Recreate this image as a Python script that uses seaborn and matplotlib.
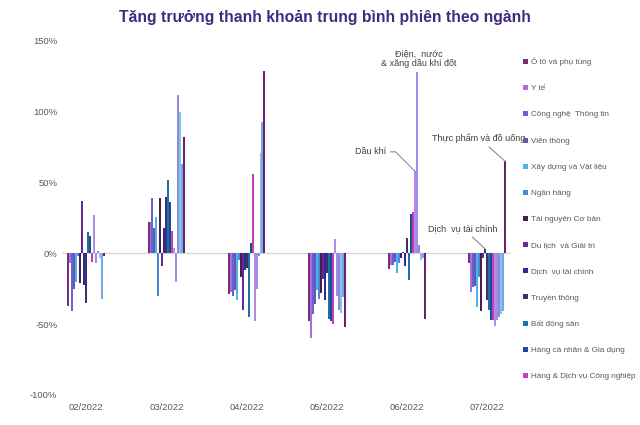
import pandas as pd
import matplotlib.pyplot as plt
import seaborn as sns

sns.set_theme(style="white")
plt.rcParams['font.family'] = ['Liberation Sans', 'DejaVu Sans']

months = ["02/2022", "03/2022", "04/2022", "05/2022", "06/2022", "07/2022"]

sectors = [
    "Ô tô và phụ tùng", "Y tế", "Công nghệ  Thông tin", "Viễn thông",
    "Xây dựng và Vật liệu", "Ngân hàng", "Tài nguyên Cơ bản",
    "Du lịch  và Giải trí", "Dịch  vụ tài chính", "Truyền thông",
    "Bất động sản", "Hàng cá nhân & Gia dụng", "Hàng & Dịch vụ Công nghiệp",
    "Dầu khí", "Điện, nước & xăng dầu khí đốt", "Bảo hiểm", "Hóa chất",
    "Bán lẻ", "Thực phẩm và đồ uống",
]

colors = [
    "#7B2D7F", "#A86ED9", "#6C5FD6", "#5D5BAA", "#4CB3EC", "#4B86D8",
    "#4B1C4E", "#64299B", "#2F2A8F", "#38336F", "#1F6FA6", "#1E4D8F",
    "#C33DC6", "#B28BE3", "#9C8DEA", "#8E8CCF", "#7CC8F2", "#7AA6E6",
    "#6A1F6C",
]

# growth in % per sector, one list per month (same order as sectors)
m02 = [-37, -7, -41, -25, -20, -2, -21, 37, -22, -35, 15, 12, -6, 27, -7, 2, -3, -32, -2]
m03 = [22, 22, 39, 18, 26, -30, 39, -9, 18, 40, 52, 36, 16, 4, -20, 112, 100, 63, 82]
m04 = [-29, -27, -30, -26, -33, -5, -17, -40, -12, -10, -45, 7, 56, -48, -25, -2, 71, 93, 129]
m05 = [-48, -60, -43, -36, -26, -32, -28, -18, -33, -14, -46, -48, -50, 10, -30, -40, -42, -31, -52]
m06 = [-11, -8, -8, -6, -14, -7, -3, 1, -9, 11, -19, 28, 29, 58, 128, 6, -5, -3, -46]
m07 = [-7, -27, -24, -23, -38, -17, -41, -3, 3, -33, -40, -47, -47, -51, -47, -45, -43, -41, 65]

values = [m02, m03, m04, m05, m06, m07]
rows = []
for month, vals in zip(months, values):
    for sector, v in zip(sectors, vals):
        rows.append({"month": month, "sector": sector, "value": v})
df = pd.DataFrame(rows)

fig = plt.figure(figsize=(6.4, 4.25), dpi=100)
ax = fig.add_axes([0.097, 0.0706, 0.702, 0.833])

sns.barplot(data=df, x="month", y="value", hue="sector", hue_order=sectors,
            order=months, palette=colors, saturation=1, width=0.47,
            linewidth=0, errorbar=None, ax=ax, legend=True)

ax.set_ylim(-100, 150)
ax.set_xlim(-0.3, 5.3)
ax.set_yticks([-100, -50, 0, 50, 100, 150])
ax.set_yticklabels([f"{t}%" for t in [-100, -50, 0, 50, 100, 150]])
ax.tick_params(axis='both', length=0, labelsize=6.8, colors="#595959")
ax.tick_params(axis='x', pad=6)
ax.set_xlabel("")
ax.set_ylabel("")
for s in ax.spines.values():
    s.set_visible(False)
ax.axhline(0, color="#d9d9d9", lw=1, zorder=0)

# only the first 13 sectors fit in the legend box
handles, labels = ax.get_legend_handles_labels()
ax.legend(handles[:13], labels[:13], loc="upper left",
          bbox_to_anchor=(0.817, 1 - 58 / 425), bbox_transform=fig.transFigure,
          frameon=False, fontsize=5.9, labelcolor="#595959",
          handlelength=0.6, handleheight=0.6, handletextpad=0.45,
          labelspacing=2.25, borderpad=0, borderaxespad=0)

fig.text(0.507, 0.958, "Tăng trưởng thanh khoản trung bình phiên theo ngành",
         ha="center", va="center", fontsize=11.3, fontweight="bold",
         color="#43297F")


def bar_top(sector, month):
    bar = ax.containers[sectors.index(sector)][months.index(month)]
    return bar.get_x() + bar.get_width() / 2, bar.get_height()


line = dict(arrowstyle="-", color="#8c8c8c", lw=0.8, shrinkA=1, shrinkB=0)
txt = dict(fontsize=6.5, color="#404040", textcoords="offset points")

x, y = bar_top("Điện, nước & xăng dầu khí đốt", "06/2022")
ax.annotate("Điện,  nước\n& xăng dầu khí đốt", (x, y), xytext=(1, 3),
            ha="center", va="bottom", linespacing=1.0, **txt)

x, y = bar_top("Dầu khí", "06/2022")
ax.annotate("Dầu khí", (x, y), xytext=(-21, 14), ha="right", va="center",
            arrowprops=dict(line, connectionstyle="angle,angleA=0,angleB=135,rad=0"), **txt)

x, y = bar_top("Thực phẩm và đồ uống", "07/2022")
ax.annotate("Thực phẩm và đồ uống", (x, y), xytext=(-19, 17), ha="center", va="center",
            arrowprops=line, **txt)

x, y = bar_top("Dịch  vụ tài chính", "07/2022")
ax.annotate("Dịch  vụ tài chính", (x, y), xytext=(-16, 15), ha="center", va="center",
            arrowprops=line, **txt)

fig.savefig("out.png", dpi=100)
